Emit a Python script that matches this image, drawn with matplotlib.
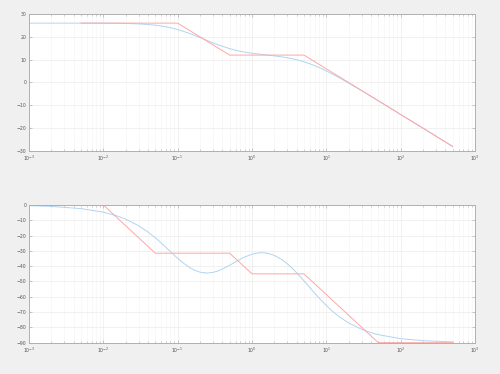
import numpy as np
import matplotlib
matplotlib.use("Agg")
import matplotlib.pyplot as plt
from matplotlib.ticker import FixedLocator, NullFormatter, LogFormatterSciNotation

# Frequency samples (rad/s)
freq = [0.001, 0.002, 0.005, 0.01, 0.015, 0.02, 0.03, 0.04, 0.05, 0.06, 0.07,
        0.085, 0.1, 0.12, 0.15, 0.17, 0.2, 0.25, 0.3, 0.35, 0.4, 0.5, 0.6, 0.7,
        0.8, 1, 1.2, 1.3, 1.5, 1.7, 2, 2.5, 3, 3.5, 4, 5, 6, 7, 8, 10, 12, 15,
        20, 30, 40, 50, 100, 200, 500]
# Magnitude (dB), smooth curve
mag_db = [26.0, 26.0, 26.0, 25.98, 25.93, 25.86, 25.66, 25.40, 25.09, 24.75,
          24.37, 23.78, 23.18, 22.39, 21.27, 20.59, 19.67, 18.38, 17.34, 16.51,
          15.84, 14.84, 14.15, 13.66, 13.30, 12.80, 12.46, 12.33, 12.11, 11.91,
          11.65, 11.24, 10.81, 10.39, 9.96, 9.07, 8.20, 7.35, 6.54, 5.06, 3.75,
          2.05, -0.26, -3.64, -6.09, -8.0, -14.0, -20.0, -28.0]
# Phase (deg), smooth curve
phase_deg = [-0.47, -0.94, -2.35, -4.68, -6.99, -9.25, -13.61, -17.68, -21.43,
             -24.80, -27.82, -31.69, -34.84, -38.07, -41.33, -42.70, -43.92,
             -44.50, -44.04, -43.06, -41.87, -39.40, -37.19, -35.38, -33.97,
             -32.17, -31.36, -31.21, -31.32, -31.80, -32.98, -35.59, -38.51,
             -41.48, -44.36, -49.56, -54.0, -57.73, -60.85, -65.72, -69.29,
             -73.10, -77.10, -81.30, -83.45, -84.75, -87.37, -88.68, -89.48]

# Asymptotic approximations
asym_mag_freq = [0.005, 0.1, 0.5, 5, 500]
asym_mag_db = [26, 26, 12, 12, -28]
asym_ph_freq = [0.001, 0.01, 0.05, 0.5, 1, 5, 50, 500]
asym_ph_deg = [0, 0, -31.5, -31.5, -45, -45, -90, -90]

decades = [-3, -2, -1, 0, 1, 2, 3]
mag_ticks = [-30, -20, -10, 0, 10, 20, 30]
ph_ticks = [-90, -80, -70, -60, -50, -40, -30, -20, -10, 0]

BLUE = "#b0d4f0"
RED = "#ffa6a6"
BG = "#f0f0f0"
SPINE = "#b0b0b0"
TXT = "#555555"

major_x = [10.0 ** d for d in decades]
minor_x = [m * 10.0 ** d for d in decades[:-1] for m in range(2, 10)]

fig = plt.figure(figsize=(5.0, 3.74), dpi=100, facecolor=BG)
ax1 = fig.add_axes([0.058, 0.5963, 0.892, 0.3663])
ax2 = fig.add_axes([0.058, 0.0837, 0.892, 0.3682])


def style(ax, yticks, ylim):
    ax.set_xscale("log")
    ax.set_xlim(major_x[0], major_x[-1])
    ax.set_ylim(*ylim)
    ax.set_facecolor("white")
    ax.yaxis.set_major_locator(FixedLocator(yticks))
    ax.xaxis.set_major_locator(FixedLocator(major_x))
    ax.xaxis.set_major_formatter(LogFormatterSciNotation())
    ax.xaxis.set_minor_locator(FixedLocator(minor_x))
    ax.xaxis.set_minor_formatter(NullFormatter())
    ax.grid(True, which="major", color="#ebebeb", lw=0.5)
    ax.grid(True, which="minor", axis="x", color="#f4f4f4", lw=0.4)
    ax.set_axisbelow(True)
    for s in ax.spines.values():
        s.set_color(SPINE)
        s.set_linewidth(0.7)
    ax.tick_params(which="both", direction="in", top=True, right=True,
                   color=SPINE, labelcolor=TXT, labelsize=3.3, pad=2)
    ax.tick_params(which="major", length=2.5, width=0.5)
    ax.tick_params(which="minor", length=1.5, width=0.4)


ax1.plot(freq, mag_db, color=BLUE, lw=0.7)
ax1.plot(asym_mag_freq, asym_mag_db, color=RED, lw=0.7)
style(ax1, mag_ticks, (-30, 30))

ax2.plot(freq, phase_deg, color=BLUE, lw=0.7)
ax2.plot(asym_ph_freq, asym_ph_deg, color=RED, lw=0.7)
style(ax2, ph_ticks, (-90, 0))

fig.savefig("out.png", dpi=100, facecolor=BG)
